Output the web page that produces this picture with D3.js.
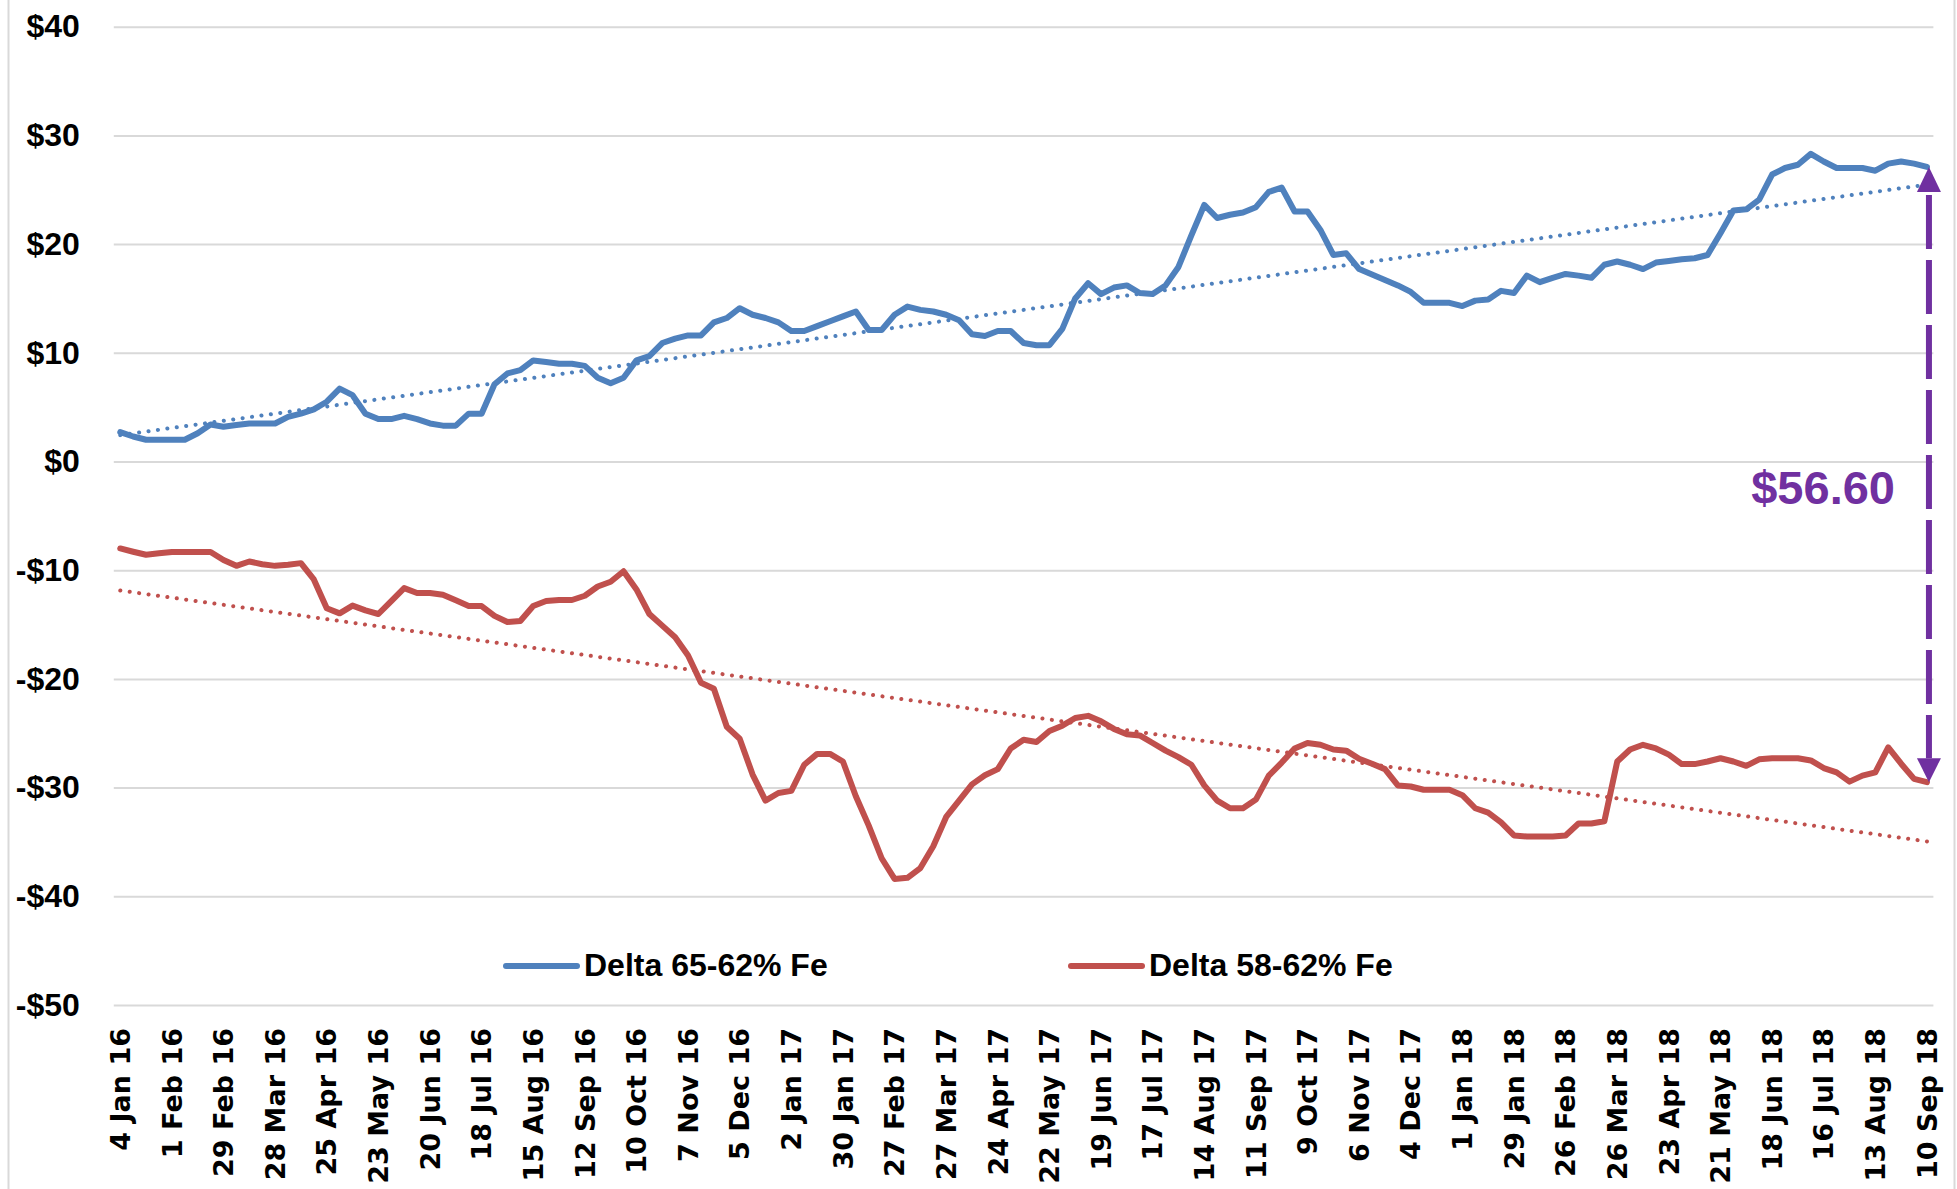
<!DOCTYPE html>
<html>
<head>
<meta charset="utf-8">
<script src="https://cdn.jsdelivr.net/npm/d3@7"></script>
<style>
    body { margin: 0; background: #fff; }
    .chart text { font-family: "Liberation Sans", Arial, sans-serif; font-weight: bold; fill: #000; }
    .axis-x text { font-family: "DejaVu Sans", Verdana, sans-serif; }
</style>
</head>
<body>
<svg class="chart"></svg>
<script>
// weekly points, Monday 4 Jan 2016 .. Monday 10 Sep 2018
var startWeek = new Date(2016, 0, 4);
var endWeek = new Date(2018, 8, 10);

var tickLabels = [
    '4 Jan 16', '1 Feb 16', '29 Feb 16', '28 Mar 16', '25 Apr 16', '23 May 16',
    '20 Jun 16', '18 Jul 16', '15 Aug 16', '12 Sep 16', '10 Oct 16', '7 Nov 16',
    '5 Dec 16', '2 Jan 17', '30 Jan 17', '27 Feb 17', '27 Mar 17', '24 Apr 17',
    '22 May 17', '19 Jun 17', '17 Jul 17', '14 Aug 17', '11 Sep 17', '9 Oct 17',
    '6 Nov 17', '4 Dec 17', '1 Jan 18', '29 Jan 18', '26 Feb 18', '26 Mar 18',
    '23 Apr 18', '21 May 18', '18 Jun 18', '16 Jul 18', '13 Aug 18', '10 Sep 18'
];

var yTicks = [40, 30, 20, 10, 0, -10, -20, -30, -40, -50];

var seriesNames = ['Delta 65-62% Fe', 'Delta 58-62% Fe'];

var delta65 = [
    2.7, 2.3, 2.0, 2.0, 2.0, 2.0, 2.6, 3.4, 3.2, 3.35,
    3.5, 3.5, 3.5, 4.1, 4.4, 4.8, 5.5, 6.7, 6.1, 4.4,
    3.9, 3.9, 4.2, 3.9, 3.5, 3.3, 3.3, 4.4, 4.4, 7.1,
    8.1, 8.4, 9.3, 9.15, 9.0, 9.0, 8.8, 7.7, 7.2, 7.7,
    9.3, 9.7, 10.9, 11.3, 11.6, 11.6, 12.8, 13.2, 14.1, 13.5,
    13.2, 12.8, 12.0, 12.0, 12.45, 12.9, 13.35, 13.8, 12.1, 12.1,
    13.5, 14.25, 13.95, 13.8, 13.5, 13.0, 11.7, 11.55, 12.0, 12.0,
    10.9, 10.7, 10.7, 12.2, 15.0, 16.4, 15.4, 16.0, 16.2, 15.5,
    15.4, 16.2, 17.9, 20.8, 23.6, 22.4, 22.7, 22.9, 23.4, 24.8,
    25.2, 23.0, 23.0, 21.3, 19.0, 19.15, 17.7, 17.2, 16.7, 16.2,
    15.6, 14.6, 14.6, 14.6, 14.3, 14.8, 14.9, 15.7, 15.5, 17.1,
    16.5, 16.9, 17.25, 17.1, 16.9, 18.1, 18.4, 18.1, 17.7, 18.3,
    18.45, 18.6, 18.7, 19.0, 21.0, 23.1, 23.2, 24.1, 26.4, 27.0,
    27.3, 28.3, 27.6, 27.0, 27.0, 27.0, 26.75, 27.4, 27.6, 27.4,
    27.1
];

var delta58 = [
    -8.0, -8.3, -8.58, -8.45, -8.32, -8.32, -8.32, -8.32, -9.06, -9.6,
    -9.2, -9.45, -9.6, -9.5, -9.35, -10.85, -13.5, -13.97, -13.26, -13.7,
    -14.03, -12.84, -11.65, -12.1, -12.1, -12.26, -12.77, -13.3, -13.3, -14.2,
    -14.77, -14.68, -13.3, -12.84, -12.74, -12.74, -12.35, -11.5, -11.06, -10.1,
    -11.77, -14.03, -15.1, -16.16, -17.84, -20.35, -20.9, -24.4, -25.5, -28.8,
    -31.2, -30.5, -30.3, -27.9, -26.9, -26.9, -27.6, -30.8, -33.5, -36.5,
    -38.4, -38.3, -37.4, -35.4, -32.7, -31.2, -29.7, -28.87, -28.3, -26.4,
    -25.6, -25.8, -24.8, -24.3, -23.6, -23.4, -23.9, -24.6, -25.1, -25.2,
    -25.9, -26.6, -27.2, -27.9, -29.8, -31.2, -31.9, -31.9, -31.1, -28.9,
    -27.7, -26.4, -25.9, -26.06, -26.5, -26.6, -27.35, -27.8, -28.3, -29.8,
    -29.9, -30.2, -30.2, -30.2, -30.7, -31.9, -32.3, -33.2, -34.4, -34.5,
    -34.5, -34.5, -34.4, -33.3, -33.3, -33.1, -27.6, -26.5, -26.06, -26.4,
    -26.97, -27.84, -27.84, -27.6, -27.3, -27.6, -28.0, -27.4, -27.3, -27.3,
    -27.3, -27.5, -28.2, -28.6, -29.45, -28.9, -28.6, -26.3, -27.8, -29.2,
    -29.5
];

var spreadLabel = '$56.60';

var config = {
    width: 1957,
    height: 1189,
    plot: {left: 113.8, right: 1933.4, top: 26.7, bottom: 1005},
    colors: ['#4F81BD', '#C0504D'],
    accent: '#7030A0',
    grid: '#D9D9D9'
};

var weeks = d3.timeMonday.range(startWeek, d3.timeDay.offset(endWeek, 1));
var fmt = d3.timeFormat('%-d %b %y');

var chart = d3.select('.chart')
    .attr('width', config.width)
    .attr('height', config.height);

chart.append('rect')
    .attr('width', config.width)
    .attr('height', config.height)
    .attr('fill', '#fff');

// chart area border, only the sides fall inside the picture
chart.append('rect')
    .attr('x', 8.5)
    .attr('y', -10)
    .attr('width', 1946)
    .attr('height', config.height + 20)
    .attr('fill', 'none')
    .attr('stroke', config.grid)
    .attr('stroke-width', 2);

var x = d3.scaleBand()
    .domain(d3.range(weeks.length))
    .range([config.plot.left, config.plot.right]);

var cx = function(i){ return x(i) + x.bandwidth() / 2; };

var y = d3.scaleLinear()
    .domain([-50, 40])
    .range([config.plot.bottom, config.plot.top]);

// y axis + gridlines
var axisY = chart.append('g')
    .attr('class', 'axis-y')
    .attr('transform', 'translate(' + config.plot.left + ',0)')
    .call(d3.axisLeft(y)
        .tickValues(yTicks)
        .tickSize(-(config.plot.right - config.plot.left))
        .tickPadding(34)
        .tickFormat(function(d){ return (d < 0 ? '-$' : '$') + Math.abs(d); }));

axisY.select('.domain').remove();
axisY.selectAll('line')
    .attr('stroke', config.grid)
    .attr('stroke-width', 2);
axisY.selectAll('text')
    .attr('fill', '#000')
    .style('font-size', '32px');

// x axis labels, every 4th week
var tickIndex = weeks.map(function(d, i){ return i; })
    .filter(function(i){ return tickLabels.indexOf(fmt(weeks[i])) > -1; });

var axisX = chart.append('g')
    .attr('class', 'axis-x')
    .attr('transform', 'translate(0,' + config.plot.bottom + ')')
    .call(d3.axisBottom(x)
        .tickValues(tickIndex)
        .tickSize(0)
        .tickFormat(function(i){ return tickLabels[tickLabels.indexOf(fmt(weeks[i]))]; }));

axisX.select('.domain').remove();
axisX.selectAll('text')
    .attr('transform', 'rotate(-90)')
    .attr('x', -23)
    .attr('y', 0)
    .attr('dy', '0.36em')
    .attr('fill', '#000')
    .style('text-anchor', 'end')
    .style('font-size', '27px');

// linear trend (least squares), like the spreadsheet trendline
var trend = function(values){
    var n = values.length;
    var mx = d3.mean(d3.range(n));
    var my = d3.mean(values);
    var sxy = d3.sum(values, function(v, i){ return (i - mx) * (v - my); });
    var sxx = d3.sum(d3.range(n), function(i){ return (i - mx) * (i - mx); });
    var b = sxy / sxx;
    return [[0, my - b * mx], [n - 1, my + b * (n - 1 - mx)]];
};

var line = d3.line()
    .x(function(d){ return cx(d[0]); })
    .y(function(d){ return y(d[1]); });

var series = [delta65, delta58];

var panel = chart.append('g').attr('class', 'panel');

panel.selectAll('.trend')
    .data(series)
    .enter().append('path')
    .attr('class', 'trend')
    .attr('d', function(d){ return line(trend(d)); })
    .attr('fill', 'none')
    .attr('stroke', function(d, i){ return config.colors[i]; })
    .attr('stroke-width', 4)
    .attr('stroke-linecap', 'round')
    .attr('stroke-dasharray', '0.1 9.4');

panel.selectAll('.line')
    .data(series)
    .enter().append('path')
    .attr('class', 'line')
    .attr('d', function(d){ return line(d.map(function(v, i){ return [i, v]; })); })
    .attr('fill', 'none')
    .attr('stroke', function(d, i){ return config.colors[i]; })
    .attr('stroke-width', 6)
    .attr('stroke-linejoin', 'round')
    .attr('stroke-linecap', 'round');

// legend
var legendX = [506, 1071];
var legend = chart.append('g').attr('class', 'legend');

var items = legend.selectAll('g')
    .data(seriesNames)
    .enter().append('g')
    .attr('transform', function(d, i){ return 'translate(' + legendX[i] + ',966)'; });

items.append('line')
    .attr('x1', 0)
    .attr('x2', 71)
    .attr('stroke', function(d, i){ return config.colors[i]; })
    .attr('stroke-width', 6)
    .attr('stroke-linecap', 'round');

items.append('text')
    .attr('x', 78)
    .attr('y', 10)
    .style('font-size', '32px')
    .text(function(d){ return d; });

// spread arrow between the last two points
var last = weeks.length - 1;
var ax = cx(last) + 2;
var yTop = y(delta65[last]);
var yBot = y(delta58[last]);
var head = 24;

var arrow = chart.append('g').attr('class', 'spread');

arrow.append('line')
    .attr('x1', ax)
    .attr('x2', ax)
    .attr('y1', yTop + head + 4)
    .attr('y2', yBot - head)
    .attr('stroke', config.accent)
    .attr('stroke-width', 6)
    .attr('stroke-dasharray', '54 11');

arrow.append('path')
    .attr('d', 'M' + ax + ',' + yTop + 'l-12,' + (head + 1) + 'h24z')
    .attr('fill', config.accent);

arrow.append('path')
    .attr('d', 'M' + ax + ',' + yBot + 'l-12,' + (-head) + 'h24z')
    .attr('fill', config.accent);

arrow.append('text')
    .attr('x', 1895)
    .attr('y', 504)
    .attr('fill', config.accent)
    .style('fill', config.accent)
    .style('font-size', '47px')
    .style('text-anchor', 'end')
    .text(spreadLabel);
</script>
</body>
</html>
